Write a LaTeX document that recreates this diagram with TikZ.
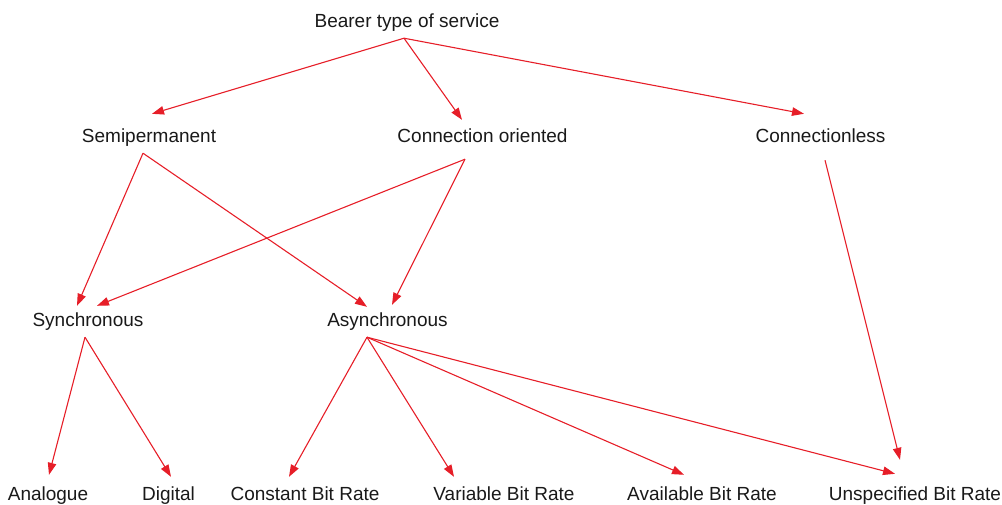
\documentclass[tikz,border=0pt]{standalone}
\usepackage{fontspec}
\setmainfont{Liberation Sans}
\usetikzlibrary{arrows.meta}
\definecolor{linkred}{RGB}{230,30,40}

\begin{document}
\begin{tikzpicture}[x=1pt, y=-1pt,
    term/.style={inner sep=0pt, anchor=base, text height=14pt, text depth=4pt,
                 font=\fontsize{19}{22}\selectfont, text=black!90},
    link/.style={draw=linkred, line width=1.1pt, -{Triangle[length=12pt,width=8.5pt]}},
]
\useasboundingbox (0,0) rectangle (1002,504);

% service tree
\node[term] (bearer) at (407,27) {Bearer type of service};
\node[term] (semi) at (149,142) {Semipermanent};
\node[term] (conn) at (482.5,142) {Connection oriented};
\node[term] (cless) at (820.5,142) {Connectionless};
\node[term] (sync) at (88,326) {Synchronous};
\node[term] (async) at (387.5,326) {Asynchronous};
\node[term] (analogue) at (48,500.5) {Analogue};
\node[term] (digital) at (168.5,500.5) {Digital};
\node[term] (cbr) at (305,500.5) {Constant Bit Rate};
\node[term] (vbr) at (504,500.5) {Variable Bit Rate};
\node[term] (abr) at (702,500.5) {Available Bit Rate};
\node[term] (ubr) at (915,500.5) {Unspecified Bit Rate};

% links
\draw[link] ([shift={(-3,7)}]bearer.south) -- ([shift={(3,-14)}]semi.north);
\draw[link] ([shift={(-3,7)}]bearer.south) -- ([shift={(-20.5,-8)}]conn.north);
\draw[link] ([shift={(-3,7)}]bearer.south) -- ([shift={(-16.5,-14)}]cless.north);
\draw[link] ([shift={(-6,7)}]semi.south) -- ([shift={(-11,-6)}]sync.north);
\draw[link] ([shift={(-6,7)}]semi.south) -- ([shift={(-20.5,-5)}]async.north);
\draw[link] ([shift={(-17.5,13)}]conn.south) -- ([shift={(9,-6)}]sync.north);
\draw[link] ([shift={(-17.5,13)}]conn.south) -- ([shift={(4.5,-7)}]async.north);
\draw[link] ([shift={(4.5,14)}]cless.south) -- ([shift={(-15,-26.5)}]ubr.north);
\draw[link] ([shift={(-3,7)}]sync.south) -- ([shift={(1,-11.5)}]analogue.north);
\draw[link] ([shift={(-3,7)}]sync.south) -- ([shift={(2.5,-9.5)}]digital.north);
\draw[link] ([shift={(-20.5,7)}]async.south) -- ([shift={(-16,-9.5)}]cbr.north);
\draw[link] ([shift={(-20.5,7)}]async.south) -- ([shift={(-50,-9.5)}]vbr.north);
\draw[link] ([shift={(-20.5,7)}]async.south) -- ([shift={(-18,-11.5)}]abr.north);
\draw[link] ([shift={(-20.5,7)}]async.south) -- ([shift={(-20,-12.5)}]ubr.north);
\end{tikzpicture}
\end{document}
